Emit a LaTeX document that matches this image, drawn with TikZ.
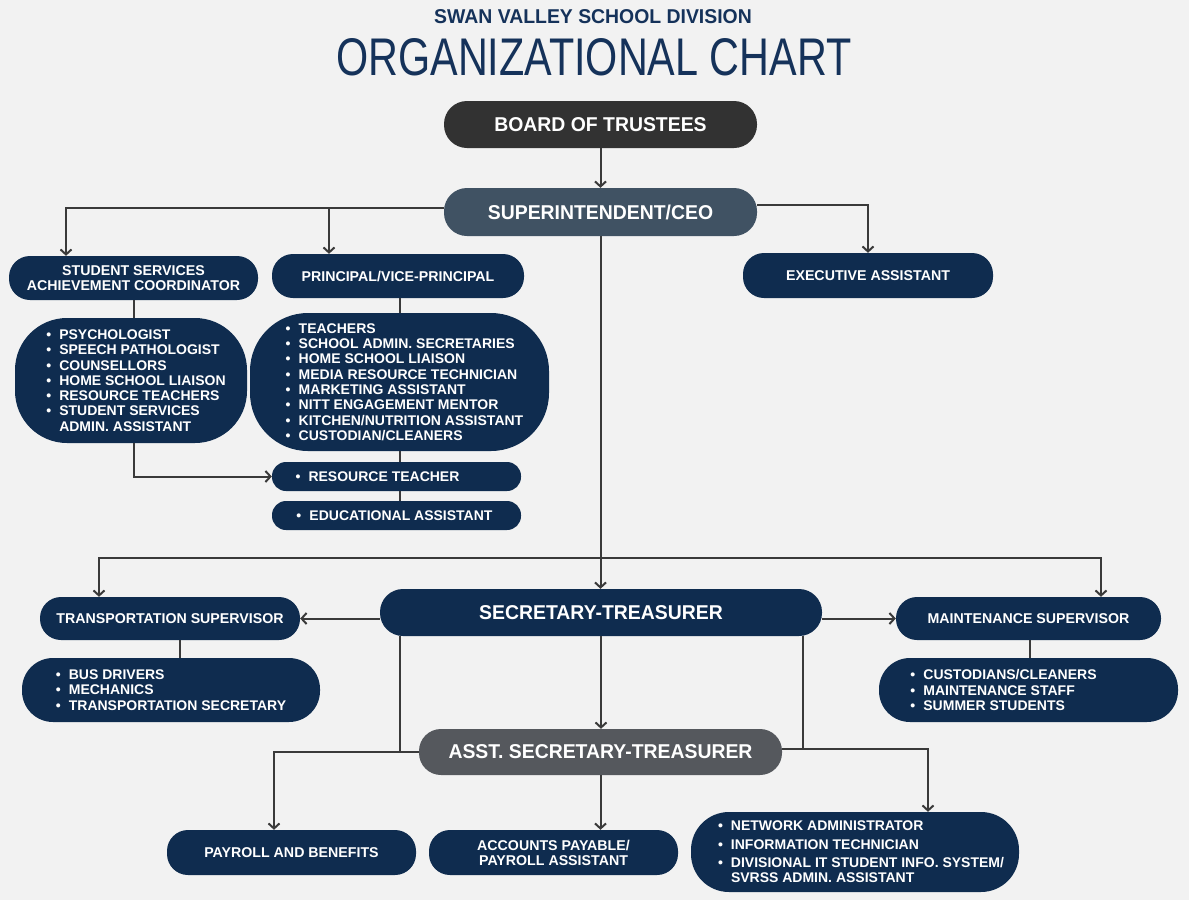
\documentclass[tikz,border=0pt]{standalone}
\usepackage{fontspec}
\setmainfont{Liberation Sans}
\newfontfamily\condfont[FakeStretch=0.97]{Liberation Sans}
\newfontfamily\titlefont[FakeStretch=0.78]{Liberation Sans}
\usetikzlibrary{arrows.meta}
\definecolor{bg}{HTML}{F2F2F2}
\definecolor{navy}{HTML}{0F2C4F}
\definecolor{boardc}{HTML}{323232}
\definecolor{slate}{HTML}{405263}
\definecolor{asstc}{HTML}{55585D}
\definecolor{linec}{HTML}{3A3A3A}
\definecolor{titlec}{HTML}{15325A}
\newlength\itmlead
\setlength\itmlead{0pt}
\newcommand{\itm}{\hspace*{\itmlead}\makebox[13pt][l]{\textbullet}}
\newcommand{\itmgap}{\hspace*{\itmlead}\hspace*{13pt}}
\tikzset{
  pill/.style={fill=navy,text=white,inner sep=0pt,align=center,rounded corners=#1},
  pill/.default=21pt,
  lead/.style={execute at begin node={\setlength\itmlead{#1}}},
  headtext/.style={font=\condfont\bfseries\fontsize{20}{24}\selectfont},
  smalltext/.style={font=\bfseries\fontsize{14.2}{15}\selectfont},
  listtext/.style={font=\bfseries\fontsize{14}{15.3}\selectfont,align=left},
  conn/.style={draw=linec,line width=2pt},
  arr/.style={conn,-{Straight Barb[length=5pt,width=11pt,line width=2pt]}}
}
\begin{document}
\begin{tikzpicture}[x=1pt,y=-1pt]
\fill[bg] (0,0) rectangle (1189,900);
\useasboundingbox (0,0) rectangle (1189,900);
% titles
\node[anchor=base,text=titlec,font=\condfont\bfseries\fontsize{20}{24}\selectfont] (t1) at (593,23) {SWAN VALLEY SCHOOL DIVISION};
\node[anchor=base,text=titlec,font=\titlefont\fontsize{53}{60}\selectfont] (t2) at (594,75) {ORGANIZATIONAL CHART};
% top level
\node[pill=23pt,fill=boardc,headtext,minimum width=313pt,minimum height=47pt] (board) at (600.5,124.5) {BOARD OF TRUSTEES};
\node[pill=23pt,fill=slate,headtext,minimum width=313pt,minimum height=48pt] (super) at (600.5,212) {SUPERINTENDENT/CEO};
% second row
\node[pill,smalltext,minimum width=249pt,minimum height=44pt] (ss) at (133.5,278) {STUDENT SERVICES\\ACHIEVEMENT COORDINATOR};
\node[pill,smalltext,minimum width=252pt,minimum height=44pt] (pvp) at (398,276) {PRINCIPAL/VICE-PRINCIPAL};
\node[pill,smalltext,minimum width=250pt,minimum height=45pt] (exec) at (868,275.5) {EXECUTIVE ASSISTANT};
% lists
\node[pill=52pt,listtext,lead=10pt,minimum width=232pt,minimum height=125pt] (sslist) at (131,380.5)
 {\itm PSYCHOLOGIST\\\itm SPEECH PATHOLOGIST\\\itm COUNSELLORS\\\itm HOME SCHOOL LIAISON\\\itm RESOURCE TEACHERS\\\itm STUDENT SERVICES\\\itmgap ADMIN. ASSISTANT};
\node[pill=58pt,listtext,lead=10pt,minimum width=299pt,minimum height=138pt] (pvplist) at (399.5,382)
 {\itm TEACHERS\\\itm SCHOOL ADMIN. SECRETARIES\\\itm HOME SCHOOL LIAISON\\\itm MEDIA RESOURCE TECHNICIAN\\\itm MARKETING ASSISTANT\\\itm NITT ENGAGEMENT MENTOR\\\itm KITCHEN/NUTRITION ASSISTANT\\\itm CUSTODIAN/CLEANERS};
\node[pill=14pt,listtext,minimum width=249pt,minimum height=29pt] (rt) at (396.5,476.5) {\itm RESOURCE TEACHER\hspace*{38pt}};
\node[pill=14pt,listtext,minimum width=249pt,minimum height=29pt] (ea) at (396.5,515.5) {\itm EDUCATIONAL ASSISTANT\hspace*{4pt}};
% secretary-treasurer level
\node[pill=23pt,headtext,minimum width=442pt,minimum height=47pt] (sec) at (601,612.5) {SECRETARY-TREASURER};
\node[pill,smalltext,minimum width=260pt,minimum height=43pt] (trans) at (170,618.5) {TRANSPORTATION SUPERVISOR};
\node[pill,smalltext,minimum width=265pt,minimum height=43pt] (maint) at (1028.5,618.5) {MAINTENANCE SUPERVISOR};
\node[pill=31pt,listtext,minimum width=298pt,minimum height=64pt] (translist) at (171,690)
 {\itm BUS DRIVERS\\\itm MECHANICS\\\itm TRANSPORTATION SECRETARY};
\node[pill=31pt,listtext,lead=-50pt,minimum width=299pt,minimum height=64pt] (maintlist) at (1028.5,690)
 {\itm CUSTODIANS/CLEANERS\\\itm MAINTENANCE STAFF\\\itm SUMMER STUDENTS};
\node[pill=22pt,fill=asstc,headtext,minimum width=363pt,minimum height=46pt] (asst) at (600.5,752) {ASST. SECRETARY-TREASURER};
% bottom row
\node[pill,smalltext,minimum width=249pt,minimum height=45pt] (payroll) at (291.5,852.5) {PAYROLL AND BENEFITS};
\node[pill,smalltext,minimum width=249pt,minimum height=45pt] (ap) at (553.5,852.5) {ACCOUNTS PAYABLE/\\PAYROLL ASSISTANT};
\node[pill=38pt,listtext,lead=12pt,minimum width=328pt,minimum height=80pt] (it) at (855,852)
 {\itm NETWORK ADMINISTRATOR\\[3pt]\itm INFORMATION TECHNICIAN\\[3pt]\itm DIVISIONAL IT STUDENT INFO. SYSTEM/\\\itmgap SVRSS ADMIN. ASSISTANT};
% helper coordinates
\coordinate (kss) at (66,0);
\coordinate (kpv) at (329,208);
\coordinate (kl) at (134,0);
\coordinate (kpl) at (400,0);
\coordinate (hbar) at (600.5,558);
\coordinate (kt) at (99,0);
\coordinate (km) at (1101,0);
\coordinate (kt2) at (180,0);
\coordinate (km2) at (1030,0);
\coordinate (ksl) at (400,0);
\coordinate (ksr) at (803,0);
\coordinate (kp) at (274,0);
\coordinate (kit) at (928,0);
% connectors
\draw[arr] (board.south) -- (board.south |- super.north);
\draw[arr] ([yshift=4pt]super.west) -| (kss |- ss.north);
\draw[arr] (kpv) -- (kpv |- pvp.north);
\draw[arr] ([yshift=7pt]super.east) -| (exec.north);
\draw[conn] (kl |- ss.south) -- (kl |- sslist.north);
\draw[conn] (kpl |- pvp.south) -- (kpl |- pvplist.north);
\draw[conn] (kpl |- pvplist.south) -- (kpl |- rt.north);
\draw[conn] (kpl |- rt.south) -- (kpl |- ea.north);
\draw[arr] (kl |- sslist.south) |- (rt.west);
\draw[arr] (super.south) -- (super.south |- sec.north);
\draw[arr] (hbar) -| (kt |- trans.north);
\draw[arr] (hbar) -| (km |- maint.north);
\draw[arr] (sec.west |- trans.east) -- (trans.east);
\draw[arr] (sec.east |- maint.west) -- (maint.west);
\draw[conn] (kt2 |- trans.south) -- (kt2 |- translist.north);
\draw[conn] (km2 |- maint.south) -- (km2 |- maintlist.north);
\draw[arr] (sec.south) -- (sec.south |- asst.north);
\draw[conn] (ksl |- sec.south) -- (ksl |- asst.west);
\draw[arr] (asst.west) -| (kp |- payroll.north);
\draw[conn] (ksr |- sec.south) -- ([yshift=3pt]ksr |- asst.east);
\draw[arr] ([yshift=3pt]asst.east) -| (kit |- it.north);
\draw[arr] (asst.south) -- (asst.south |- ap.north);
\end{tikzpicture}
\end{document}
